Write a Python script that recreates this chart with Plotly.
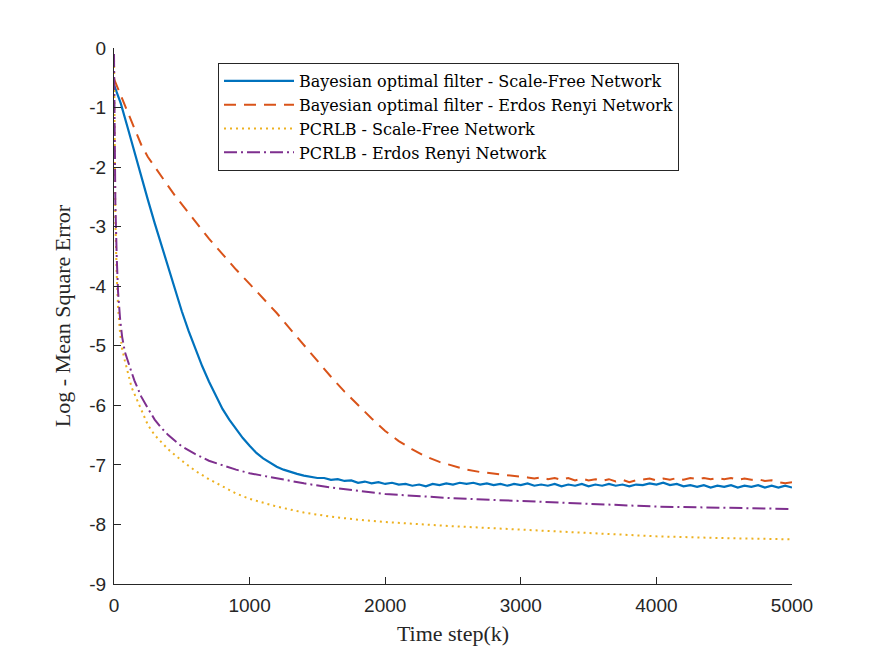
import plotly.graph_objects as go

# ---------------- data ----------------
k_blue = [0, 50, 100, 150, 200, 250, 300, 350, 400, 450, 500, 550, 600, 650, 700,
          750, 800, 850, 900, 950, 1000, 1050, 1100, 1150, 1200, 1250, 1300, 1350, 1400,
          1450, 1500, 1550, 1600, 1650, 1700, 1750, 1800, 1850, 1900, 1950, 2000,
          2050, 2100, 2150, 2200, 2250, 2300, 2350, 2400, 2450, 2500, 2550, 2600,
          2650, 2700, 2750, 2800, 2850, 2900, 2950, 3000, 3050, 3100, 3150, 3200,
          3250, 3300, 3350, 3400, 3450, 3500, 3550, 3600, 3650, 3700, 3750, 3800,
          3850, 3900, 3950, 4000, 4050, 4100, 4150, 4200, 4250, 4300, 4350, 4400,
          4450, 4500, 4550, 4600, 4650, 4700, 4750, 4800, 4850, 4900, 4950, 5000]
mse_bayes_sf = [-0.62, -0.93, -1.33, -1.75, -2.15, -2.55, -2.94, -3.32, -3.70, -4.07,
                -4.42, -4.75, -5.05, -5.34, -5.60, -5.84, -6.06, -6.24, -6.40, -6.55,
                -6.68, -6.80, -6.89, -6.96, -7.03, -7.08, -7.12, -7.15, -7.18,
                -7.20, -7.22, -7.22, -7.25, -7.24, -7.27, -7.26, -7.30, -7.28, -7.31,
                -7.29, -7.32, -7.30, -7.33, -7.32, -7.35, -7.33, -7.36, -7.32, -7.34,
                -7.31, -7.33, -7.30, -7.32, -7.30, -7.33, -7.31, -7.34, -7.32, -7.35,
                -7.32, -7.34, -7.31, -7.35, -7.33, -7.35, -7.32, -7.36, -7.33, -7.35,
                -7.32, -7.36, -7.33, -7.35, -7.32, -7.35, -7.33, -7.36, -7.33, -7.34,
                -7.31, -7.33, -7.30, -7.34, -7.32, -7.36, -7.34, -7.37, -7.34, -7.38,
                -7.35, -7.37, -7.34, -7.38, -7.35, -7.37, -7.34, -7.38, -7.35, -7.38,
                -7.35, -7.38]

k_red = [0, 50, 100, 150, 200, 250, 300, 350, 400, 450, 500, 600, 700, 800, 900, 1000,
         1100, 1200, 1300, 1400, 1500, 1600, 1700, 1800, 1900, 2000, 2100, 2200, 2300,
         2400, 2500, 2600, 2700, 2800, 2900, 3000, 3050, 3100, 3150, 3200, 3250, 3300,
         3350, 3400, 3450, 3500, 3550, 3600, 3650, 3700, 3750, 3800, 3850, 3900, 3950,
         4000, 4050, 4100, 4150, 4200, 4250, 4300, 4350, 4400, 4450, 4500, 4550, 4600,
         4650, 4700, 4750, 4800, 4850, 4900, 4950, 5000]
mse_bayes_er = [-0.52, -0.80, -1.08, -1.35, -1.62, -1.83, -2.00, -2.16, -2.32, -2.48,
                -2.62, -2.92, -3.20, -3.46, -3.72, -3.96, -4.20, -4.45, -4.72, -4.99,
                -5.26, -5.52, -5.77, -6.00, -6.22, -6.43, -6.60, -6.74, -6.86, -6.95,
                -7.02, -7.08, -7.12, -7.15, -7.18, -7.20, -7.21, -7.23, -7.21, -7.24,
                -7.22, -7.25, -7.22, -7.26, -7.23, -7.26, -7.24, -7.27, -7.24, -7.28,
                -7.25, -7.29, -7.26, -7.25, -7.23, -7.26, -7.23, -7.25, -7.22, -7.25,
                -7.22, -7.24, -7.22, -7.24, -7.22, -7.24, -7.22, -7.25, -7.23, -7.25,
                -7.24, -7.27, -7.26, -7.29, -7.31, -7.29]

k_pcrlb_er = [0, 5, 10, 20, 30, 45, 60, 80, 100, 120, 150, 200, 250, 300, 350, 400,
              500, 600, 700, 800, 900, 1000, 1200, 1400, 1600, 1800, 2000, 2500, 3000,
              3500, 4000, 4500, 5000]
pcrlb_er = [-0.10, -1.80, -2.60, -3.50, -4.10, -4.55, -4.85, -5.10, -5.25, -5.38,
            -5.58, -5.85, -6.05, -6.24, -6.38, -6.50, -6.69, -6.82, -6.93, -7.01,
            -7.08, -7.14, -7.23, -7.31, -7.38, -7.44, -7.49, -7.56, -7.61, -7.66,
            -7.70, -7.72, -7.74]

k_pcrlb_sf = [0, 5, 10, 20, 30, 45, 60, 80, 100, 130, 170, 200, 250, 300, 400, 500,
              600, 700, 800, 900, 1000, 1200, 1400, 1600, 1800, 2000, 2500, 3000, 3500,
              4000, 4500, 5000]
pcrlb_sf = [-0.10, -2.00, -2.90, -3.80, -4.35, -4.79, -5.05, -5.25, -5.42, -5.70,
            -5.91, -6.08, -6.33, -6.50, -6.74, -6.93, -7.10, -7.24, -7.36, -7.48,
            -7.57, -7.70, -7.80, -7.87, -7.92, -7.96, -8.03, -8.09, -8.15, -8.20,
            -8.23, -8.25]

names = ["Bayesian optimal filter - Scale-Free Network",
         "Bayesian optimal filter - Erdos Renyi Network",
         "PCRLB - Scale-Free Network",
         "PCRLB - Erdos Renyi Network"]
x_ticks = [0, 1000, 2000, 3000, 4000, 5000]
y_ticks = [0, -1, -2, -3, -4, -5, -6, -7, -8, -9]

# ---------------- figure ----------------
AX = "#262626"
SERIF = "Liberation Serif"
LEG_SERIF = "DejaVu Serif"
SANS = "Liberation Sans"

fig = go.Figure()
fig.add_trace(go.Scatter(x=k_blue, y=mse_bayes_sf, mode="lines", name=names[0],
                         line=dict(color="#0072BD", width=2.2)))
fig.add_trace(go.Scatter(x=k_red, y=mse_bayes_er, mode="lines", name=names[1],
                         line=dict(color="#D95319", width=2, dash="12px,8px")))
fig.add_trace(go.Scatter(x=k_pcrlb_sf, y=pcrlb_sf, mode="lines", name=names[2],
                         line=dict(color="#EDB120", width=2, dash="2px,4px")))
fig.add_trace(go.Scatter(x=k_pcrlb_er, y=pcrlb_er, mode="lines", name=names[3],
                         line=dict(color="#7E2F8E", width=2, dash="13px,4px,2px,4px")))

fig.update_layout(
    width=875, height=657,
    margin=dict(l=114, r=83, t=48, b=73),
    paper_bgcolor="white", plot_bgcolor="white",
    showlegend=True,
    legend=dict(x=0.1534, y=0.972, xanchor="left", yanchor="top",
                bgcolor="white", bordercolor=AX, borderwidth=1,
                font=dict(family=LEG_SERIF, size=16, color="black"),
                itemwidth=70, tracegroupgap=0),
    xaxis=dict(range=[0, 5000], tickvals=x_ticks, ticktext=[str(v) for v in x_ticks],
               showgrid=False, zeroline=False, showline=True, linecolor=AX, linewidth=1,
               ticks="inside", ticklen=7, tickcolor=AX, mirror=False,
               ticklabelstandoff=4,
               tickfont=dict(family=SANS, size=19, color=AX),
               title=dict(text="Time step(k)", font=dict(family=SERIF, size=22, color=AX),
                          standoff=10)),
    yaxis=dict(range=[-9, 0], tickvals=y_ticks, ticktext=[str(v) for v in y_ticks],
               showgrid=False, zeroline=False, showline=True, linecolor=AX, linewidth=1,
               ticks="inside", ticklen=7, tickcolor=AX, mirror=False,
               ticklabelstandoff=3,
               tickfont=dict(family=SANS, size=19, color=AX),
               title=dict(text="Log - Mean Square Error",
                          font=dict(family=SERIF, size=22, color=AX), standoff=12)),
)

fig.write_html("out.html")
